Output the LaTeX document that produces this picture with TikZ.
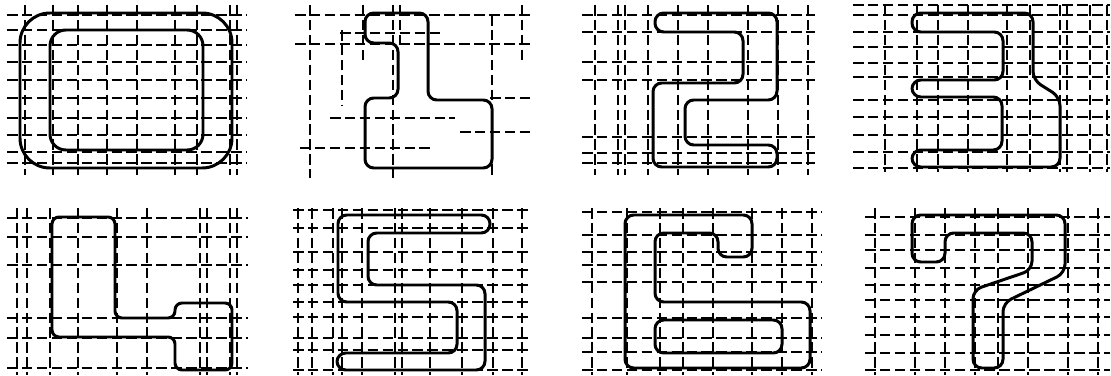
\documentclass[tikz,border=0pt]{standalone}
\begin{document}
\begin{tikzpicture}[x=0.02cm,y=-0.02cm,
  gridline/.style={line width=1pt, dash pattern=on 6pt off 2.5pt},
  digit/.style={line width=1.7pt, rounded corners=5pt}]
\useasboundingbox[fill=white] (0,0) rectangle (1111,375);
% ---------- grids ----------
% panel 1
\foreach \x in {25,53,78,107,137,175,197,230,237} \draw[gridline] (\x,5) -- (\x,175);
\foreach \y in {15,30,45,62,80,98,118,135,152,163} \draw[gridline] (7,\y) -- (247,\y);
% panel 2 (sparse)
\foreach \x/\a/\b in {310/5/178,342/30/105,363/5/60,393/5/178,400/5/45,492/15/178,522/5/60}
  \draw[gridline] (\x,\a) -- (\x,\b);
\foreach \y/\a/\b in {15/295/530,33/340/440,44/295/530,98/490/530,118/330/455,132/460/530,148/300/430}
  \draw[gridline] (\a,\y) -- (\b,\y);
% panel 3
\foreach \x in {595,618,625,648,678,708,748,778,808} \draw[gridline] (\x,5) -- (\x,175);
\foreach \y in {15,32,62,80,137,153,163} \draw[gridline] (582,\y) -- (815,\y);
% panel 4
\foreach \x in {885,917,938,968,1007,1030,1060,1067,1090,1107} \draw[gridline] (\x,5) -- (\x,172);
\foreach \y in {5,15,32,47,63,77,100,117,135,152,168} \draw[gridline] (853,\y) -- (1110,\y);
% panel 5
\foreach \x in {17,27,50,78,117,147,200,207,230,237} \draw[gridline] (\x,208) -- (\x,375);
\foreach \y in {218,237,265,318,338,368} \draw[gridline] (7,\y) -- (248,\y);
% panel 6
\foreach \x in {298,312,333,342,362,395,402,430,462,493,522} \draw[gridline] (\x,208) -- (\x,375);
\foreach \y in {210,228,252,270,285,302,317,338,350,370} \draw[gridline] (293,\y) -- (530,\y);
% panel 7
\foreach \x in {592,627,660,683,713,752,782,812} \draw[gridline] (\x,208) -- (\x,375);
\foreach \y in {212,235,252,265,282,318,338,352,370} \draw[gridline] (582,\y) -- (822,\y);
% panel 8
\foreach \x in {875,915,945,975,998,1028,1068,1098} \draw[gridline] (\x,208) -- (\x,375);
\foreach \y in {217,235,250,268,285,300,317,335,353,370} \draw[gridline] (865,\y) -- (1110,\y);
% ---------- digits ----------
% 0
\draw[digit, rounded corners=17pt] (20,13) rectangle (232,168);
\draw[digit, rounded corners=9pt] (50,30) rectangle (203,150);
% 1
\draw[digit] (365,13) -- (428,13) -- (428,100) -- (492,100) -- (492,168) -- (365,168)
  -- (365,98) -- (398,98) -- (398,43) -- (365,43) -- cycle;
% 2
\draw[digit] (655,13) -- (777,13) -- (777,100) -- (685,100) -- (685,145) -- (777,145)
  -- (777,167) -- (653,167) -- (653,83) -- (743,83) -- (743,32) -- (655,32) -- cycle;
% 3
\draw[digit] (912,13) -- (1033,13) -- (1033,80) -- (1060,97) -- (1060,167) -- (912,167)
  -- (912,150) -- (1002,150) -- (1002,97) -- (912,97) -- (912,80) -- (1003,80)
  -- (1003,32) -- (912,32) -- cycle;
% 4
\draw[digit, rounded corners=4pt] (52,217) -- (115,217) -- (115,318) -- (175,318) -- (175,303)
  -- (232,303) -- (232,370) -- (175,370) -- (175,337) -- (52,337) -- cycle;
% 5
\draw[digit] (338,215) -- (490,215) -- (490,233) -- (368,233) -- (368,285) -- (485,285)
  -- (485,370) -- (337,370) -- (337,353) -- (457,353) -- (457,302) -- (338,302) -- cycle;
% 6
\draw[digit] (625,215) -- (752,215) -- (752,257) -- (718,257) -- (718,233) -- (655,233)
  -- (655,302) -- (810,302) -- (810,368) -- (625,368) -- cycle;
\draw[digit] (655,320) rectangle (782,353);
% 7
\draw[digit] (912,215) -- (1065,215) -- (1065,273) -- (1003,303) -- (1003,368) -- (973,368)
  -- (973,290) -- (1032,270) -- (1032,233) -- (945,233) -- (945,262) -- (912,262) -- cycle;
\end{tikzpicture}
\end{document}
